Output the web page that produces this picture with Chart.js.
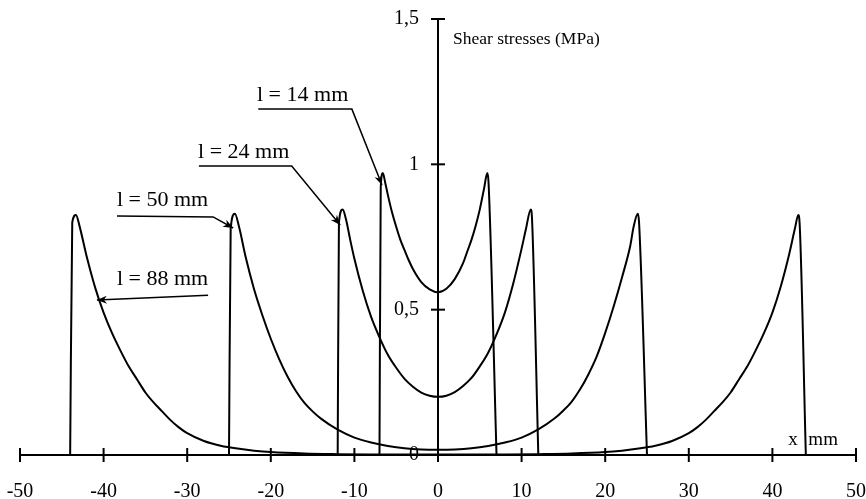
<!DOCTYPE html>
<html><head><meta charset="utf-8">
<script src="https://cdn.jsdelivr.net/npm/chart.js@4.4.0/dist/chart.umd.min.js"></script>
<style>html,body{margin:0;padding:0;background:#fff}#wrap{width:866px;height:499px}</style>
</head><body><div id="wrap"><canvas id="c" width="866" height="499"></canvas></div>
<script>
// ---- data ----
const xTickValues = [-50,-40,-30,-20,-10,0,10,20,30,40,50];
const yTickValues = [0,0.5,1,1.5];
const yTickLabels = ['0','0,5','1','1,5'];
const xAxisTitle = 'x mm';
const yAxisTitle = 'Shear stresses (MPa)';
const seriesNames = ['l = 14 mm','l = 24 mm','l = 50 mm','l = 88 mm'];

const l14X = [-7,-6.85,-6.6,-6.3,-6,-5.5,-5,-4.5,-4,-3.5,-3,-2,-1,0,1,2,3,3.5,4,4.5,5,5.5,5.9,6.05,7];
const l14Y = [0,0.92,0.97,0.935,0.895,0.835,0.785,0.74,0.705,0.67,0.64,0.595,0.57,0.56,0.572,0.605,0.66,0.70,0.74,0.788,0.845,0.915,0.97,0.935,0];

const l24X = [-12,-11.85,-11.4,-11,-10.5,-10,-9,-8,-7,-6,-5,-4,-3,-2,-1,0,1,2,3,4,5,6,7,8,9,10,10.5,11.1,11.25,12];
const l24Y = [0,0.80,0.845,0.81,0.74,0.675,0.565,0.475,0.405,0.345,0.30,0.262,0.235,0.215,0.204,0.20,0.204,0.216,0.237,0.265,0.305,0.352,0.415,0.49,0.59,0.71,0.775,0.845,0.81,0];

const l50X = [-25,-24.8,-24.3,-23.8,-23,-22,-21,-20,-19,-18,-17,-16,-15,-14,-12,-10,-8,-6,-4,-2,0,2,4,6,8,10,12,14,15,16,17,18,19,20,21,22,23,23.4,23.9,24.05,25];
const l50Y = [0,0.78,0.83,0.785,0.68,0.57,0.48,0.40,0.33,0.27,0.22,0.18,0.15,0.125,0.087,0.06,0.043,0.031,0.023,0.019,0.018,0.019,0.023,0.031,0.043,0.06,0.088,0.127,0.153,0.184,0.226,0.278,0.34,0.42,0.51,0.61,0.72,0.785,0.83,0.80,0];

const l88X = [-44,-43.75,-43.3,-42.9,-42,-41,-40,-39,-38,-37,-36,-35,-34,-33,-32,-31,-30,-28,-26,-24,-22,-20,-16,-12,-8,0,8,12,16,20,22,24,26,28,30,31,32,33,34,35,36,37,38,39,40,41,42,42.7,43.1,43.25,44];
const l88Y = [0,0.80,0.826,0.79,0.68,0.575,0.49,0.42,0.36,0.305,0.26,0.215,0.18,0.15,0.12,0.095,0.075,0.048,0.032,0.022,0.015,0.01,0.005,0.003,0.002,0.002,0.002,0.003,0.005,0.01,0.015,0.022,0.032,0.048,0.075,0.095,0.12,0.15,0.18,0.215,0.26,0.305,0.36,0.42,0.49,0.58,0.69,0.78,0.826,0.80,0];

// ---- annotation layout (data coordinates) ----
const annotations = [
  {text: seriesNames[0], tx: -21.65, ty: 1.238, path: [[-21.5,1.19],[-10.3,1.19],[-6.7,0.929]]},
  {text: seriesNames[1], tx: -28.7,  ty: 1.042, path: [[-28.6,0.994],[-17.5,0.994],[-11.7,0.791]]},
  {text: seriesNames[2], tx: -38.4,  ty: 0.877, path: [[-38.4,0.822],[-26.9,0.819],[-24.5,0.781]]},
  {text: seriesNames[3], tx: -38.4,  ty: 0.605, path: [[-27.5,0.55],[-40.8,0.533]]}
];

const FONT = '"Liberation Serif", "Times New Roman", serif';
const toPts = (xs, ys) => xs.map((x, i) => ({x, y: ys[i]}));
const curve = (label, xs, ys) => ({
  label, data: toPts(xs, ys), borderColor: '#000', borderWidth: 2,
  pointRadius: 0, fill: false, cubicInterpolationMode: 'monotone'
});

const axesPlugin = {
  id: 'axesPlugin',
  afterDraw(chart) {
    const ctx = chart.ctx, xs = chart.scales.x, ys = chart.scales.y;
    const y0 = ys.getPixelForValue(0), x0 = xs.getPixelForValue(0);
    ctx.save();
    ctx.strokeStyle = '#000'; ctx.fillStyle = '#000';
    ctx.lineWidth = 2;
    ctx.beginPath();
    ctx.moveTo(xs.getPixelForValue(-50), y0); ctx.lineTo(xs.getPixelForValue(50), y0);
    ctx.stroke();
    xTickValues.forEach(v => {
      const p = xs.getPixelForValue(v);
      ctx.beginPath(); ctx.moveTo(p, y0 - 7); ctx.lineTo(p, y0 + 7); ctx.stroke();
    });
    ctx.beginPath();
    ctx.moveTo(x0, ys.getPixelForValue(1.5)); ctx.lineTo(x0, y0 + 7);
    ctx.stroke();
    ctx.font = '20px ' + FONT;
    ctx.textBaseline = 'middle'; ctx.textAlign = 'right';
    yTickValues.forEach((v, i) => {
      const p = ys.getPixelForValue(v);
      if (v !== 0) { ctx.beginPath(); ctx.moveTo(x0 - 7, p); ctx.lineTo(x0 + 7, p); ctx.stroke(); }
      ctx.fillText(yTickLabels[i], x0 - 19, p);
    });
    // axis titles
    ctx.textAlign = 'left';
    ctx.font = '17.5px ' + FONT;
    ctx.fillText(yAxisTitle, xs.getPixelForValue(1.79), ys.getPixelForValue(1.431));
    ctx.font = '19px ' + FONT;
    const parts = xAxisTitle.split(' ');
    ctx.fillText(parts[0], xs.getPixelForValue(41.9), ys.getPixelForValue(0.052));
    ctx.fillText(parts[1], xs.getPixelForValue(44.3), ys.getPixelForValue(0.052));
    // annotations
    ctx.font = '22px ' + FONT;
    ctx.lineWidth = 1.5;
    annotations.forEach(a => {
      ctx.fillText(a.text, xs.getPixelForValue(a.tx), ys.getPixelForValue(a.ty));
      const pts = a.path.map(p => [xs.getPixelForValue(p[0]), ys.getPixelForValue(p[1])]);
      ctx.beginPath();
      ctx.moveTo(pts[0][0], pts[0][1]);
      for (let i = 1; i < pts.length; i++) ctx.lineTo(pts[i][0], pts[i][1]);
      ctx.stroke();
      const a1 = pts[pts.length - 2], a2 = pts[pts.length - 1];
      const ang = Math.atan2(a2[1] - a1[1], a2[0] - a1[0]);
      const L = 10, W = 4;
      ctx.beginPath();
      ctx.moveTo(a2[0], a2[1]);
      ctx.lineTo(a2[0] - L * Math.cos(ang) + W * Math.sin(ang), a2[1] - L * Math.sin(ang) - W * Math.cos(ang));
      ctx.lineTo(a2[0] - L * 0.7 * Math.cos(ang), a2[1] - L * 0.7 * Math.sin(ang));
      ctx.lineTo(a2[0] - L * Math.cos(ang) - W * Math.sin(ang), a2[1] - L * Math.sin(ang) + W * Math.cos(ang));
      ctx.closePath();
      ctx.fill();
    });
    ctx.restore();
  }
};

new Chart(document.getElementById('c'), {
  type: 'line',
  data: {datasets: [curve(seriesNames[0], l14X, l14Y), curve(seriesNames[1], l24X, l24Y), curve(seriesNames[2], l50X, l50Y), curve(seriesNames[3], l88X, l88Y)]},
  options: {
    responsive: false, animation: false, devicePixelRatio: 1,
    layout: {padding: {left: 20, right: 10, top: 19, bottom: 0}},
    plugins: {legend: {display: false}, tooltip: {enabled: false}},
    scales: {
      x: {
        type: 'linear', min: -50, max: 50, position: 'bottom',
        grid: {display: false, drawTicks: false}, border: {display: false},
        afterFit: s => { s.height = 44; s.paddingLeft = 0; s.paddingRight = 0; },
        afterBuildTicks: s => { s.ticks = xTickValues.map(v => ({value: v})); },
        ticks: {autoSkip: false, maxRotation: 0, padding: 25, color: '#000', font: {family: FONT, size: 20}, callback: v => String(v)}
      },
      y: {
        type: 'linear', min: 0, max: 1.5, position: {x: 0},
        grid: {display: false, drawTicks: false}, border: {display: false},
        afterFit: s => { s.width = 0; s.paddingTop = 0; s.paddingBottom = 0; },
        ticks: {display: false}
      }
    }
  },
  plugins: [axesPlugin]
});
</script></body></html>
